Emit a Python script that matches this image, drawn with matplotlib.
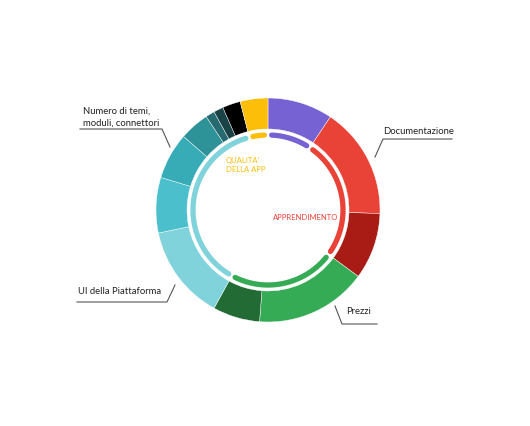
import numpy as np
import matplotlib.pyplot as plt

# segmenti dell'anello esterno (in senso orario dalle 12)
valori = [9.4, 16.1, 9.6, 16.1, 6.8, 13.7, 8.0, 6.7, 4.3, 1.3, 1.4, 2.6, 4.0]
colori = ["#7662D3", "#E94237", "#A91C15", "#35AB55", "#236B35", "#80D3DA",
          "#4BBFCB", "#37ABB6", "#2E9299", "#246A70", "#1A4347", "#000000", "#FDBE0A"]
gruppo = [0, 1, 1, 2, 2, 3, 3, 3, 3, 3, 3, 3, 4]
colori_gruppo = ["#7662D3", "#E94237", "#35AB55", "#80D3DA", "#FDBE0A"]

H = 426
cx, cy = 268, H - 210
R = 112

fig = plt.figure(figsize=(5.30, 4.26), dpi=100)
ax = fig.add_axes([0, 0, 1, 1])
ax.set_xlim(0, 530)
ax.set_ylim(0, H)
ax.set_aspect("equal")
ax.axis("off")

ax.pie(valori, colors=colori, startangle=90, counterclock=False,
       center=(cx, cy), radius=R, frame=True,
       wedgeprops=dict(width=31, edgecolor="white", linewidth=0.3))
ax.set_xlim(0, 530)
ax.set_ylim(0, H)
ax.axis("off")

# archi interni per gruppo
tot = sum(valori)
somme = [sum(v for v, g in zip(valori, gruppo) if g == k) for k in range(5)]
inizio = 0
gap = 2.8
for k, s in enumerate(somme):
    a0 = inizio / tot * 360 + gap
    a1 = (inizio + s) / tot * 360 - gap
    t = np.radians(90 - np.linspace(a0, a1, 100))
    ax.plot(cx + 75 * np.cos(t), cy + 75 * np.sin(t), color=colori_gruppo[k],
            lw=3.8, solid_capstyle="round")
    inizio += s

font = "Lato"
ax.text(226, H - 160, "QUALITA'", color="#FDBE0A", fontsize=5.5, family=font, va="center")
ax.text(226, H - 170, "DELLA APP", color="#FDBE0A", fontsize=5.5, family=font, va="center")
ax.text(273, H - 218, "APPRENDIMENTO", color="#E94237", fontsize=5.5, family=font, va="center")

testo = "#222222"
linea = "#555555"
ax.text(83, H - 117, "Numero di temi,\nmoduli, connettori", color=testo, fontsize=6.8,
        family=font, va="center", linespacing=1.5)
ax.plot([80, 162, 170], [H - 129, H - 129, H - 147], color=linea, lw=0.8)

ax.text(383, H - 131, "Documentazione", color=testo, fontsize=6.8, family=font, va="center")
ax.plot([452, 383, 375], [H - 139, H - 139, H - 157], color=linea, lw=0.8)

ax.text(78, H - 292, "UI della Piattaforma", color=testo, fontsize=6.8, family=font, va="center")
ax.plot([77, 167, 175], [H - 302, H - 302, H - 285], color=linea, lw=0.8)

ax.text(346, H - 312, "Prezzi", color=testo, fontsize=6.8, family=font, va="center")
ax.plot([377, 342, 335], [H - 324, H - 324, H - 306], color=linea, lw=0.8)

fig.savefig("out.png", dpi=100, facecolor="white")
